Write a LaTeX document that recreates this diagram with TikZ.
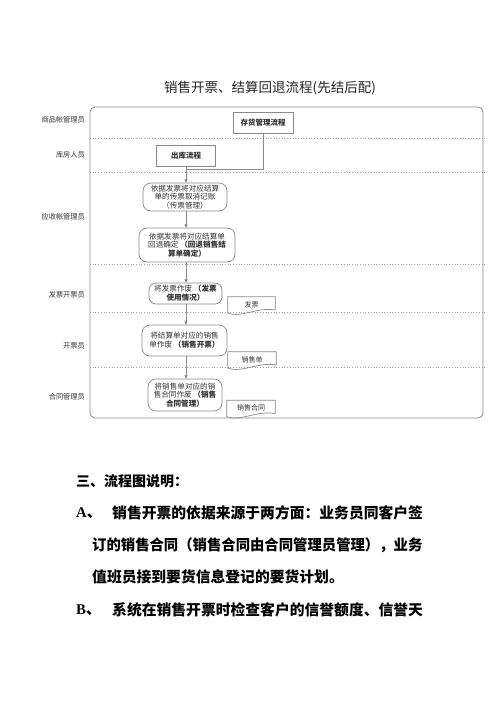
\documentclass[tikz,border=0pt]{standalone}
\usepackage{fontspec}
\usepackage{graphicx}
\setmainfont{Noto Sans CJK SC}
\newfontfamily\latinserif{Liberation Serif}
\usetikzlibrary{arrows.meta,calc}
\definecolor{lineg}{HTML}{8A8A8A}
\definecolor{textg}{HTML}{333333}
\tikzset{
  frameline/.style={draw=lineg,line width=0.8pt},
  laneline/.style={draw=lineg!80,line width=0.7pt,dotted},
  lanelabel/.style={anchor=east,text=textg,font=\fontsize{7.2}{8}\selectfont,inner sep=0pt},
  procbox/.style={draw=lineg,line width=0.7pt,fill=white,text=textg,font=\fontsize{7.5}{9}\selectfont\bfseries,inner sep=0pt},
  roundbox/.style={draw=lineg,line width=0.7pt,rounded corners=8pt,fill=white,text=textg,align=center,font=\fontsize{7.6}{8.8}\selectfont,inner sep=0pt},
  docnode/.style={text=textg,font=\fontsize{7}{8}\selectfont,inner sep=0pt},
  docline/.style={draw=lineg,line width=0.7pt},
  conn/.style={draw=lineg,line width=0.7pt},
  arr/.style={conn,-{Triangle[length=3.2pt,width=3pt,fill=black]}},
  para/.style={anchor=west,inner sep=0pt,font=\fontsize{14.8}{18}\selectfont\bfseries},
}
\begin{document}
\begin{tikzpicture}[x=1pt,y=-1pt]
\useasboundingbox (0,0) rectangle (500,707);
\fill[white] (0,0) rectangle (500,707);

% title
\node[inner sep=0pt,font=\fontsize{13.5}{15}\selectfont,text=black!85] (title) at (270,88) {销售开票、结算回退流程(先结后配)};

% frame
\draw[frameline,rounded corners=5pt] (90,107) rectangle (483,418);
% lane separators
\foreach \yy in {138,172,264,312,367} \draw[laneline] (90,\yy) -- (485,\yy);

% lane labels
\node[lanelabel] (l1) at (85,120) {商品帐管理员};
\node[lanelabel] (l2) at (85,155) {库房人员};
\node[lanelabel] (l3) at (85,217) {应收帐管理员};
\node[lanelabel] (l4) at (85,295) {发票开票员};
\node[lanelabel] (l5) at (85,346) {开票员};
\node[lanelabel] (l6) at (85,397) {合同管理员};

% process boxes
\node[procbox,minimum width=60pt,minimum height=21pt] (inv) at (263,122.5) {存货管理流程};
\node[procbox,minimum width=59pt,minimum height=21pt] (out) at (186,155.5) {出库流程};

\node[roundbox,minimum width=84pt,minimum height=28pt] (b1) at (185,197)
  {依据发票将对应结算\\单的传票取消记账\\（传票管理）};
\node[roundbox,minimum width=96pt,minimum height=34pt] (b2) at (187,245)
  {依据发票将对应结算单\\回退确定 \textbf{（回退销售结}\\\textbf{算单确定）}};
\node[roundbox,rounded corners=7pt,minimum width=73pt,minimum height=21pt] (b3) at (185.5,293.5)
  {将发票作废 \textbf{（发票}\\\textbf{使用情况）}};
\node[roundbox,minimum width=85pt,minimum height=31pt] (b4) at (184.5,340.5)
  {将结算单对应的销售\\单作废 \textbf{（销售开票）}};
\node[roundbox,minimum width=74pt,minimum height=32pt] (b5) at (185,395)
  {将销售单对应的销\\售合同作废 \textbf{（销售}\\\textbf{合同管理）}};

% documents
\node[docnode,minimum width=47pt,minimum height=15pt] (d1) at (251.5,304.5) {发票};
\node[docnode,minimum width=48pt,minimum height=15pt] (d2) at (252,359.5) {销售单};
\node[docnode,minimum width=48pt,minimum height=15pt] (d3) at (251,408) {销售合同};
\foreach \d in {d1,d2,d3}{
  \draw[docline] ($(\d.south east)+(0,-2)$) -- (\d.north east) -- (\d.north west) -- ($(\d.south west)+(0,1)$)
    .. controls ($(\d.south west)+(14,6)$) and ($(\d.south east)+(-16,-6)$) .. ($(\d.south east)+(0,-2)$);
}

% connectors
\coordinate (j) at (inv.south |- 0,169);
\draw[conn] (inv.south) -- (j) -- (j -| out.south);
\draw[arr] (out.south) -- (out.south |- b1.north);
\draw[arr] (b1.south -| out.south) -- (out.south |- b2.north);
\draw[arr] (b2.south -| out.south) -- (out.south |- b3.north);
\draw[arr] (b3.south -| out.south) -- (out.south |- b4.north);
\draw[arr] (b4.south -| out.south) -- (out.south |- b5.north);

% explanation text
\node[para,font=\fontsize{14}{16}\selectfont\bfseries] (h) at (76,481) {三、流程图说明：};
\node[para] (pa) at (76,513) {{\latinserif\bfseries A}、};
\node[para] (pa1) at (112,513) {销售开票的依据来源于两方面：业务员同客户签};
\node[para] (pa2) at (92,545) {\scalebox{0.97}[1]{订的销售合同（销售合同由合同管理员管理），业务}};
\node[para] (pa3) at (92,577) {值班员接到要货信息登记的要货计划。};
\node[para] (pb) at (76,610) {{\latinserif\bfseries B}、};
\node[para] (pb1) at (112,610) {系统在销售开票时检查客户的信誉额度、信誉天};
\end{tikzpicture}
\end{document}
